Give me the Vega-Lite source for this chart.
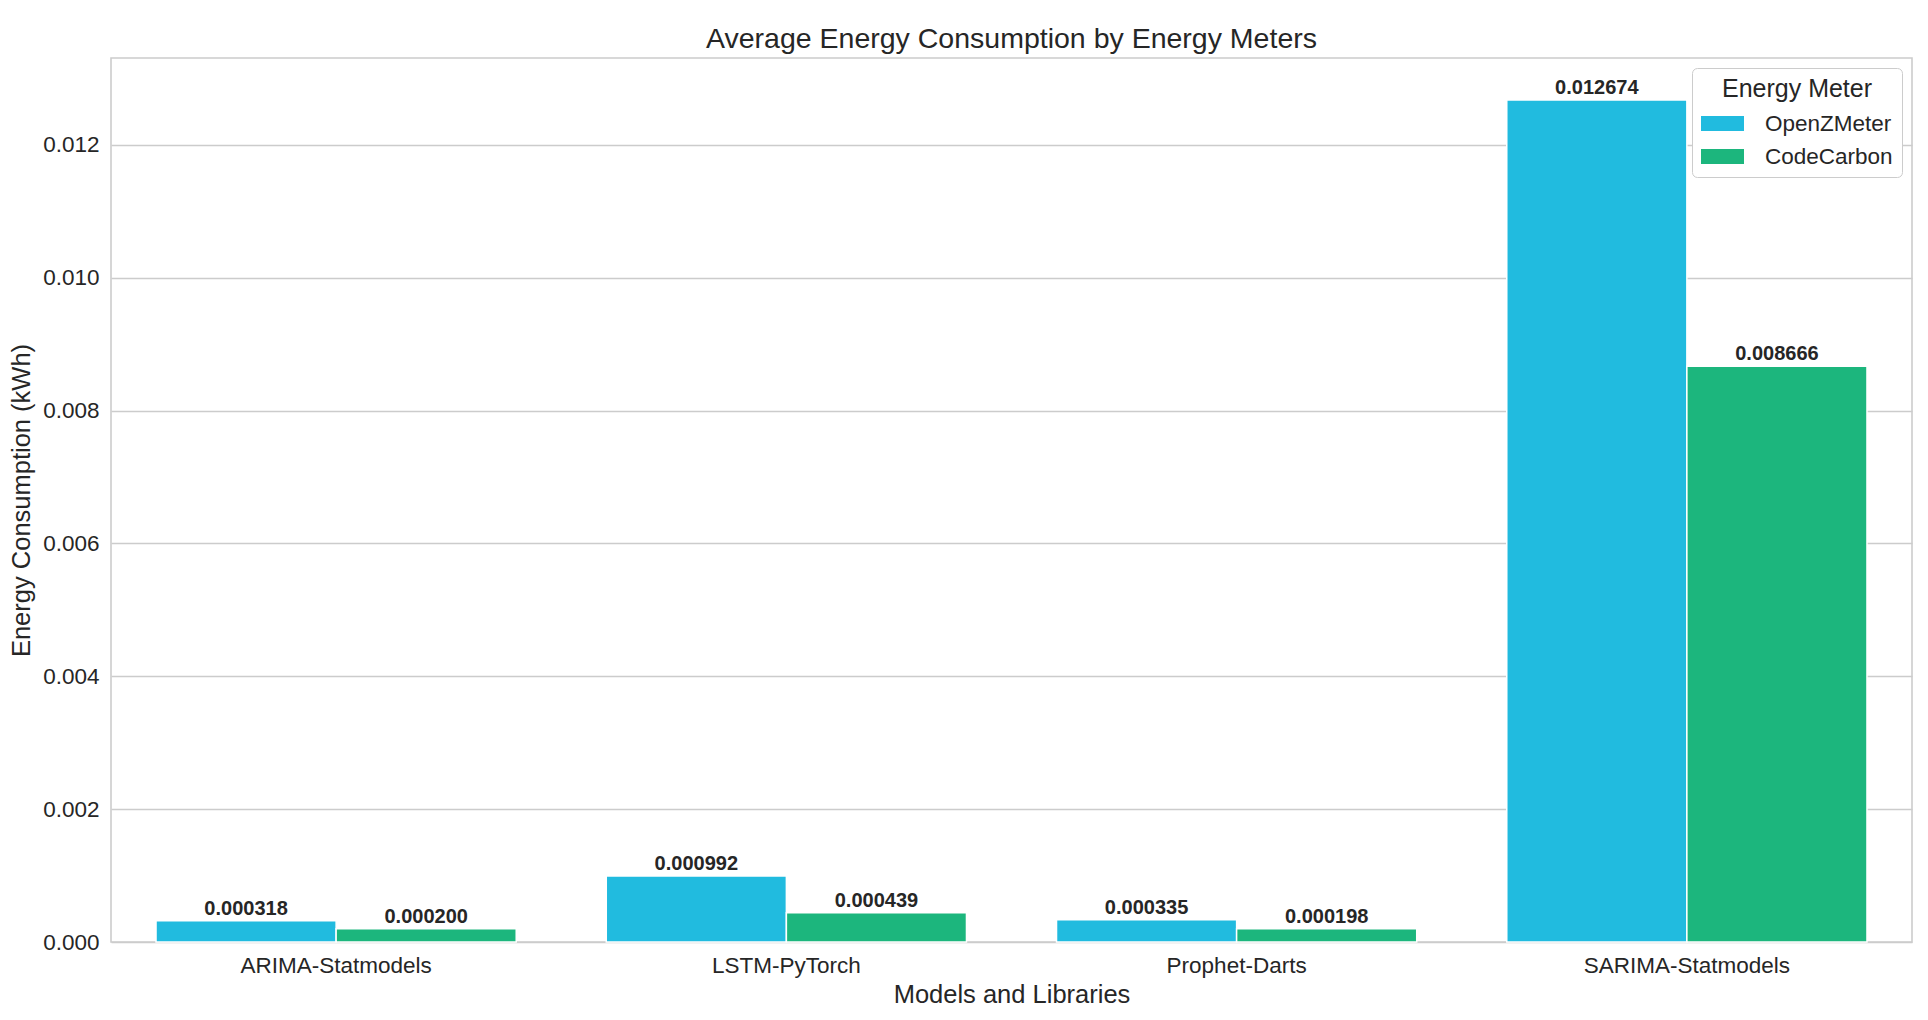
{
  "$schema": "https://vega.github.io/schema/vega-lite/v6.json",
  "autosize": "none",
  "padding": {"left": 111, "top": 58, "right": 16, "bottom": 78},
  "width": 1801,
  "height": 884,
  "background": "white",
  "title": {
    "text": "Average Energy Consumption by Energy Meters",
    "font": "Liberation Sans",
    "fontSize": 28.5,
    "fontWeight": "normal",
    "color": "#262626",
    "offset": 5
  },
  "config": {
    "font": "Liberation Sans",
    "view": {"stroke": "#cccccc", "strokeWidth": 1.6},
    "axis": {
      "labelFont": "Liberation Sans",
      "titleFont": "Liberation Sans",
      "labelColor": "#262626",
      "titleColor": "#262626",
      "titleFontWeight": "normal",
      "domain": false,
      "ticks": false,
      "labelLimit": 0
    }
  },
  "data": {
    "values": [
      {"model": "ARIMA-Statmodels", "meter": "OpenZMeter", "value": 0.000318},
      {"model": "ARIMA-Statmodels", "meter": "CodeCarbon", "value": 0.000200},
      {"model": "LSTM-PyTorch", "meter": "OpenZMeter", "value": 0.000992},
      {"model": "LSTM-PyTorch", "meter": "CodeCarbon", "value": 0.000439},
      {"model": "Prophet-Darts", "meter": "OpenZMeter", "value": 0.000335},
      {"model": "Prophet-Darts", "meter": "CodeCarbon", "value": 0.000198},
      {"model": "SARIMA-Statmodels", "meter": "OpenZMeter", "value": 0.012674},
      {"model": "SARIMA-Statmodels", "meter": "CodeCarbon", "value": 0.008666}
    ]
  },
  "encoding": {
    "x": {
      "field": "model",
      "type": "nominal",
      "sort": ["ARIMA-Statmodels", "LSTM-PyTorch", "Prophet-Darts", "SARIMA-Statmodels"],
      "scale": {"paddingInner": 0.2, "paddingOuter": 0.1},
      "axis": {
        "title": "Models and Libraries",
        "labelAngle": 0,
        "labelFontSize": 22.5,
        "titleFontSize": 25.5,
        "labelPadding": 12,
        "titlePadding": 6,
        "grid": false
      }
    },
    "xOffset": {
      "field": "meter",
      "type": "nominal",
      "sort": ["OpenZMeter", "CodeCarbon"],
      "scale": {"paddingInner": 0, "paddingOuter": 0}
    },
    "y": {
      "field": "value",
      "type": "quantitative",
      "scale": {"domain": [0, 0.013307], "nice": false, "zero": true},
      "axis": {
        "title": "Energy Consumption (kWh)",
        "values": [0, 0.002, 0.004, 0.006, 0.008, 0.010, 0.012],
        "format": ".3f",
        "labelFontSize": 22.5,
        "titleFontSize": 25.5,
        "labelPadding": 12,
        "titlePadding": 8,
        "grid": true,
        "gridColor": "#cccccc",
        "gridWidth": 1.6
      }
    }
  },
  "layer": [
    {
      "mark": {"type": "bar", "stroke": "white", "strokeWidth": 1.5},
      "encoding": {
        "color": {
          "field": "meter",
          "type": "nominal",
          "sort": ["OpenZMeter", "CodeCarbon"],
          "scale": {"domain": ["OpenZMeter", "CodeCarbon"], "range": ["#21bbdf", "#1cb67d"]},
          "legend": {
            "title": "Energy Meter",
            "orient": "top-right",
            "offset": 10,
            "titleFontSize": 25,
            "titleFontWeight": "normal",
            "titleColor": "#262626",
            "titleAnchor": "middle",
            "labelFontSize": 22.5,
            "labelColor": "#262626",
            "labelOffset": 21,
            "symbolType": "M-1,-0.35L1,-0.35L1,0.35L-1,0.35Z",
            "symbolSize": 1849,
            "symbolStrokeWidth": 0,
            "strokeColor": "#cccccc",
            "fillColor": "white",
            "cornerRadius": 5,
            "padding": 9,
            "rowPadding": -11,
            "titlePadding": 0
          }
        }
      }
    },
    {
      "mark": {
        "type": "text",
        "baseline": "alphabetic",
        "dy": -6,
        "fontWeight": "bold",
        "fontSize": 20,
        "color": "#262626"
      },
      "encoding": {
        "text": {"field": "value", "type": "quantitative", "format": ".6f"}
      }
    }
  ]
}
